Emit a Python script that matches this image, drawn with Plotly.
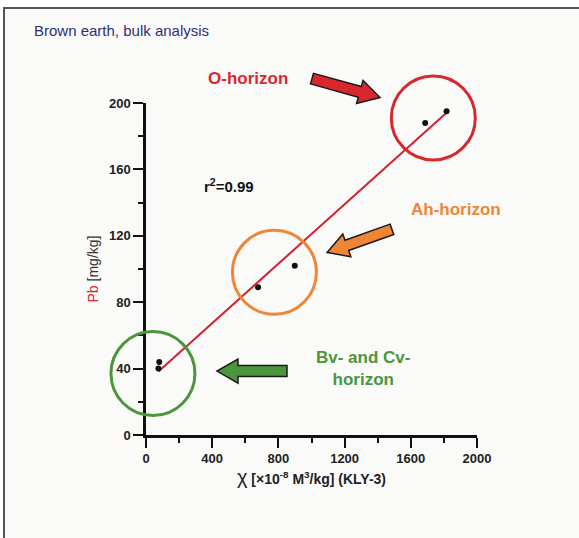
import numpy as np
import plotly.graph_objects as go

# Magnetic susceptibility (x 10^-8 m^3/kg, KLY-3) and Pb content (mg/kg)
susceptibility = [75, 80, 677, 899, 1687, 1816]
lead = [40, 44, 89, 102, 188, 195]

x_ticks = [0, 400, 800, 1200, 1600, 2000]
y_ticks = [0, 40, 80, 120, 160, 200]

# horizon groups: label, circle centre (data units), colour
horizons = [
    ("O-horizon", 1736, 191, "#d8282e"),
    ("Ah-horizon", 776, 98, "#ee8636"),
    ("Bv- and Cv-<br>horizon", 42, 37, "#4b963c"),
]

# figure geometry
FW, FH = 579, 538
L, R, T, B = 146, 102, 103, 103
W, H = FW - L - R, FH - T - B
XR, YR = (0, 2000), (0, 200)


def to_px(x, y):
    return (L + (x - XR[0]) / (XR[1] - XR[0]) * W,
            T + (1 - (y - YR[0]) / (YR[1] - YR[0])) * H)


def px_to_paper(px, py):
    return (px - L) / W, (T + H - py) / H


def data_to_paper(x, y):
    return px_to_paper(*to_px(x, y))


def block_arrow(tail, tip, color, bw=5.5, hw=12, hl=21):
    (tx, ty), (hx, hy) = to_px(*tail), to_px(*tip)
    d = np.array([hx - tx, hy - ty])
    d = d / np.linalg.norm(d)
    n = np.array([-d[1], d[0]])
    t = np.array([tx, ty])
    h = np.array([hx, hy])
    base = h - d * hl
    pts = [t + n * bw, base + n * bw, base + n * hw, h,
           base - n * hw, base - n * bw, t - n * bw]
    path = "M " + " L ".join(
        "{:.5f},{:.5f}".format(*px_to_paper(*p)) for p in pts) + " Z"
    return dict(type="path", xref="paper", yref="paper", path=path,
                fillcolor=color, line=dict(color="#1a1a1a", width=1.5),
                layer="above")


slope, intercept = np.polyfit(susceptibility, lead, 1)
fit_x = np.array([min(susceptibility), max(susceptibility)])
fit_y = slope * fit_x + intercept

fig = go.Figure()
fig.add_trace(go.Scatter(x=fit_x, y=fit_y, mode="lines",
                         line=dict(color="#d42032", width=2),
                         hoverinfo="skip", showlegend=False))
fig.add_trace(go.Scatter(x=susceptibility, y=lead, mode="markers",
                         marker=dict(color="#111111", size=6),
                         showlegend=False))

shapes = []
# frame
fx0, fy0 = px_to_paper(4, 8)
fx1, fy1 = px_to_paper(FW + 20, FH + 20)
shapes.append(dict(type="rect", xref="paper", yref="paper",
                   x0=fx0, y0=fy1, x1=fx1, y1=fy0,
                   fillcolor="#fafaf8", line=dict(color="#555555", width=2),
                   layer="below"))

# circles around each horizon group
RADIUS = 42
for _, cx, cy, col in horizons:
    px, py = to_px(cx, cy)
    x0, y0 = px_to_paper(px - RADIUS, py + RADIUS)
    x1, y1 = px_to_paper(px + RADIUS, py - RADIUS)
    shapes.append(dict(type="circle", xref="paper", yref="paper",
                       x0=x0, y0=y0, x1=x1, y1=y1,
                       line=dict(color=col, width=3), layer="above"))

# pointer arrows
shapes.append(block_arrow((1003, 214.7), (1414, 203.3), "#d8282e"))
shapes.append(block_arrow((1486, 123.9), (1094, 110), "#ee8636"))
shapes.append(block_arrow((852, 38.5), (429, 38.5), "#4b963c"))

label_pos = [(616, 215), (1873, 136), (1311, 39.8)]
annotations = []
for (text, _, _, col), (lx, ly) in zip(horizons, label_pos):
    ax_, ay_ = data_to_paper(lx, ly)
    annotations.append(dict(x=ax_, y=ay_, xref="paper", yref="paper",
                            xanchor="center", yanchor="middle",
                            text=text, showarrow=False,
                            font=dict(family="Liberation Sans", size=17,
                                      color=col, weight="bold")))
rx, ry = data_to_paper(501, 150.6)
annotations.append(dict(x=rx, y=ry, xref="paper", yref="paper",
                        xanchor="center", yanchor="middle",
                        text="r<sup>2</sup>=0.99", showarrow=False,
                        font=dict(family="Liberation Sans", size=15,
                                  color="#111111", weight="bold")))
tx, ty = px_to_paper(32, 31)
annotations.append(dict(x=tx, y=ty, xref="paper", yref="paper",
                        xanchor="left", yanchor="middle",
                        text="Brown earth, bulk analysis", showarrow=False,
                        font=dict(family="Liberation Sans", size=15,
                                  color="#2e2f78")))

axis_common = dict(showline=True, linecolor="#111111", linewidth=2.5,
                   ticks="outside", ticklen=10, tickwidth=2,
                   tickcolor="#111111", showgrid=False, zeroline=False,
                   tickfont=dict(family="Liberation Sans", size=13,
                                 color="#222222", weight="bold"))

fig.update_xaxes(range=list(XR), tickvals=x_ticks,
                 minor=dict(dtick=200, ticklen=5, tickwidth=2,
                            tickcolor="#111111", ticks="outside"),
                 title=dict(text="<span style='font-size:20px;font-weight:normal'>χ</span>"
                                 " [×10<sup>-8</sup> M<sup>3</sup>/kg] (KLY-3)",
                            font=dict(family="Liberation Sans", size=14,
                                      color="#222222", weight="bold"),
                            standoff=4),
                 **axis_common)
fig.update_yaxes(range=list(YR), tickvals=y_ticks,
                 minor=dict(dtick=20, ticklen=5, tickwidth=2,
                            tickcolor="#111111", ticks="outside"),
                 title=dict(text="<span style='color:#d8282e'>Pb</span> [mg/kg]",
                            font=dict(family="Liberation Sans", size=14,
                                      color="#333333"),
                            standoff=8),
                 **axis_common)

fig.update_layout(width=FW, height=FH,
                  margin=dict(l=L, r=R, t=T, b=B),
                  paper_bgcolor="white", plot_bgcolor="rgba(0,0,0,0)",
                  shapes=shapes, annotations=annotations,
                  showlegend=False)

fig.write_html("out.html")
